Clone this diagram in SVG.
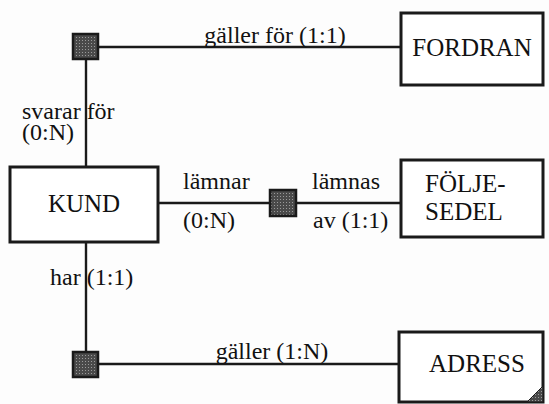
<svg xmlns="http://www.w3.org/2000/svg" width="549" height="404" viewBox="0 0 549 404">
<defs>
<pattern id="dots" width="3" height="3" patternUnits="userSpaceOnUse">
<rect width="3" height="3" fill="#4a4a4a"/>
<rect x="1" y="1" width="1" height="1" fill="#9a9a9a"/>
</pattern>
<style>
.box{fill:#fff;stroke:#1a1a1a;stroke-width:3}
.rel{fill:url(#dots);stroke:#1a1a1a;stroke-width:2.5}
.ln{stroke:#1a1a1a;stroke-width:2.4;fill:none}
text{font-family:'Liberation Serif','Times New Roman',Times,serif;fill:#111}
.nt{font-size:25px}
.lb{font-size:24px}
</style>
</defs>
<rect width="549" height="404" fill="#fdfdfd"/>
<g id="connectors">
<line class="ln" x1="98" y1="47" x2="401" y2="47"/>
<line class="ln" x1="86" y1="59" x2="86" y2="167"/>
<line class="ln" x1="158" y1="203" x2="401" y2="203"/>
<line class="ln" x1="86" y1="242" x2="86" y2="352"/>
<line class="ln" x1="98" y1="364" x2="399" y2="364"/>
<text class="lb" x="275" y="43" text-anchor="middle" font-size="25">gäller för (1:1)</text>
<text class="lb" x="22" y="119">svarar för</text>
<text class="lb" x="22" y="140">(0:N)</text>
<text class="lb" x="183" y="189">lämnar</text>
<text class="lb" x="183" y="228">(0:N)</text>
<text class="lb" x="312" y="189">lämnas</text>
<text class="lb" x="313" y="228">av (1:1)</text>
<text class="lb" x="50" y="285">har (1:1)</text>
<text class="lb" x="272" y="359" text-anchor="middle">gäller (1:N)</text>
</g>
<g id="rel-top"><rect class="rel" x="73" y="34" width="25" height="25"/></g>
<g id="rel-mid"><rect class="rel" x="270" y="190" width="26" height="26"/></g>
<g id="rel-bottom"><rect class="rel" x="73" y="352" width="25" height="25"/></g>
<g id="fordran">
<rect class="box" x="401" y="13" width="142" height="72"/>
<text class="nt" x="472" y="56" text-anchor="middle">FORDRAN</text>
</g>
<g id="kund">
<rect class="box" x="10" y="167" width="148" height="75"/>
<text class="nt" x="84" y="212" text-anchor="middle">KUND</text>
</g>
<g id="foljesedel">
<rect class="box" x="401" y="160" width="142" height="77"/>
<text class="nt" x="425" y="192">FÖLJE-</text>
<text class="nt" x="425" y="220">SEDEL</text>
</g>
<g id="adress">
<rect class="box" x="399" y="332" width="144" height="70"/>
<polygon points="527,402 543,402 543,386" fill="url(#dots)" stroke="#1a1a1a" stroke-width="1"/>
<text class="nt" x="477" y="372" text-anchor="middle">ADRESS</text>
</g>
</svg>
